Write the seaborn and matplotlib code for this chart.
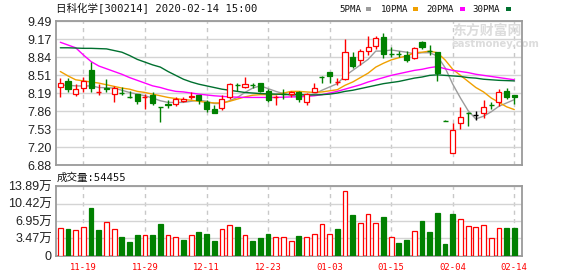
import numpy as np
import matplotlib
matplotlib.use("Agg")
import matplotlib.pyplot as plt
import seaborn as sns

# ---------------- data ----------------
title_text = "日科化学[300214] 2020-02-14 15:00"
vol_label = "成交量:54455"

open_ = [8.30, 8.41, 8.17, 8.28, 8.61, 8.20, 8.28, 8.17, 8.20, 8.12,
         8.18, 8.10, 8.15, 7.94, 8.00, 8.00, 8.04, 8.12, 8.15, 8.03,
         7.90, 7.91, 8.11, 8.34, 8.30, 8.35, 8.37, 8.23, 8.11, 8.18,
         8.18, 8.20, 8.03, 8.20, 8.49, 8.57, 8.38, 8.44, 8.84, 8.78,
         8.96, 9.05, 9.20, 8.91, 8.90, 8.88, 8.82, 9.12, 8.96, 8.93,
         7.70, 7.11, 7.64, 7.84, 7.79, 7.82, 7.98, 8.03, 8.23, 8.15]
close = [8.38, 8.26, 8.26, 8.41, 8.29, 8.21, 8.26, 8.28, 8.19, 8.11,
         8.05, 8.11, 8.01, 7.93, 7.98, 8.08, 8.08, 8.14, 8.06, 7.90,
         7.83, 8.08, 8.35, 8.33, 8.35, 8.34, 8.23, 8.06, 8.12, 8.17,
         8.21, 8.08, 8.17, 8.29, 8.48, 8.49, 8.39, 8.93, 8.68, 8.95,
         9.02, 9.18, 8.89, 8.90, 8.89, 8.79, 9.00, 9.02, 8.95, 8.56,
         7.69, 7.52, 7.75, 7.83, 7.79, 7.94, 7.97, 8.21, 8.12, 8.11]
high = [8.47, 8.46, 8.35, 8.48, 8.75, 8.35, 8.44, 8.31, 8.30, 8.23,
        8.18, 8.17, 8.20, 7.94, 8.06, 8.12, 8.12, 8.20, 8.15, 8.06,
        7.97, 8.15, 8.37, 8.38, 8.48, 8.38, 8.37, 8.26, 8.15, 8.26,
        8.23, 8.23, 8.19, 8.38, 8.49, 8.57, 8.46, 9.17, 8.93, 8.98,
        9.23, 9.22, 9.27, 9.02, 8.95, 8.96, 9.02, 9.13, 9.06, 8.93,
        7.70, 7.64, 7.93, 7.84, 7.86, 8.06, 8.03, 8.26, 8.29, 8.15]
low = [8.12, 8.20, 8.14, 8.20, 8.20, 8.15, 8.21, 8.03, 8.15, 8.10,
       8.00, 7.90, 7.97, 7.67, 7.91, 7.96, 8.03, 8.08, 7.99, 7.85,
       7.83, 7.89, 8.09, 8.23, 8.28, 8.28, 8.21, 8.02, 7.97, 8.09,
       8.12, 8.03, 7.98, 8.20, 8.38, 8.37, 8.34, 8.43, 8.64, 8.70,
       8.88, 8.98, 8.82, 8.85, 8.85, 8.75, 8.80, 8.98, 8.88, 8.41,
       7.69, 7.11, 7.54, 7.60, 7.71, 7.73, 7.90, 7.96, 8.09, 7.99]

ma5 = [8.335, 8.33, 8.32, 8.317, 8.32, 8.29, 8.285, 8.28, 8.24, 8.20,
       8.17, 8.14, 8.10, 8.05, 8.02, 8.02, 8.02, 8.04, 8.06, 8.04,
       8.00, 8.00, 8.05, 8.11, 8.20, 8.28, 8.32, 8.27, 8.22, 8.18,
       8.15, 8.12, 8.14, 8.17, 8.24, 8.30, 8.36, 8.50, 8.60, 8.70,
       8.80, 8.95, 8.95, 8.97, 8.95, 8.93, 8.90, 8.92, 8.92, 8.86,
       8.65, 8.35, 8.10, 7.87, 7.72, 7.77, 7.85, 7.95, 8.01, 8.07]
ma10 = [8.58, 8.50, 8.43, 8.41, 8.39, 8.37, 8.34, 8.31, 8.28, 8.26,
        8.22, 8.20, 8.17, 8.14, 8.11, 8.09, 8.07, 8.06, 8.04, 8.02,
        8.01, 8.01, 8.04, 8.08, 8.12, 8.15, 8.16, 8.16, 8.16, 8.19,
        8.22, 8.22, 8.21, 8.20, 8.21, 8.23, 8.25, 8.33, 8.39, 8.47,
        8.55, 8.66, 8.73, 8.79, 8.83, 8.86, 8.92, 8.93, 8.95, 8.92,
        8.79, 8.62, 8.51, 8.40, 8.29, 8.21, 8.10, 8.02, 7.94, 7.89]
ma20 = [9.11, 9.06, 9.01, 8.88, 8.76, 8.68, 8.63, 8.58, 8.53, 8.47,
        8.42, 8.37, 8.32, 8.29, 8.25, 8.22, 8.21, 8.19, 8.17, 8.155,
        8.14, 8.13, 8.12, 8.115, 8.11, 8.11, 8.11, 8.11, 8.11, 8.115,
        8.12, 8.12, 8.13, 8.14, 8.16, 8.19, 8.22, 8.26, 8.30, 8.34,
        8.39, 8.43, 8.47, 8.51, 8.54, 8.57, 8.60, 8.62, 8.65, 8.67,
        8.63, 8.60, 8.58, 8.56, 8.53, 8.51, 8.49, 8.47, 8.45, 8.43]
ma30 = [9.01, 9.01, 9.005, 9.00, 9.00, 8.995, 8.99, 8.96, 8.93, 8.87,
        8.80, 8.75, 8.70, 8.66, 8.58, 8.51, 8.44, 8.39, 8.35, 8.32,
        8.29, 8.26, 8.24, 8.22, 8.20, 8.19, 8.18, 8.175, 8.17, 8.165,
        8.16, 8.16, 8.155, 8.155, 8.16, 8.17, 8.19, 8.22, 8.24, 8.27,
        8.30, 8.33, 8.36, 8.38, 8.40, 8.43, 8.46, 8.48, 8.51, 8.52,
        8.51, 8.50, 8.49, 8.47, 8.46, 8.44, 8.43, 8.42, 8.415, 8.41]

volume_wan = [5.53, 5.33, 5.13, 5.73, 9.60, 5.13, 6.73, 5.33, 3.73, 2.73,
              4.13, 4.13, 4.13, 6.33, 4.13, 3.73, 3.13, 4.13, 4.73, 4.33,
              2.93, 5.33, 6.13, 5.73, 4.13, 2.93, 3.53, 4.33, 3.73, 3.73,
              2.93, 3.93, 3.73, 4.33, 6.33, 4.33, 5.33, 12.93, 8.13, 6.53,
              8.33, 6.53, 7.73, 3.73, 2.53, 3.13, 4.93, 6.93, 4.73, 8.53,
              2.33, 8.33, 7.33, 5.93, 5.73, 6.13, 3.53, 5.53, 5.45, 5.45]
volume_up = [1, 0, 1, 1, 0, 0, 1, 1, 0, 0,
             0, 1, 0, 0, 1, 1, 0, 1, 0, 0,
             0, 1, 1, 0, 1, 0, 0, 0, 1, 1,
             1, 0, 1, 1, 1, 1, 0, 1, 0, 1,
             1, 1, 0, 1, 0, 0, 1, 0, 0, 0,
             0, 0, 1, 1, 1, 1, 1, 1, 0, 0]

price_ticks = ["6.88", "7.20", "7.53", "7.86", "8.19", "8.51", "8.84", "9.17", "9.49"]
price_min, price_max = 6.88, 9.49
vol_ticks = ["0", "3.47万", "6.95万", "10.42万", "13.89万"]
vol_max = 13.89
date_idx = [3, 11, 19, 27, 35, 43, 51, 59]
date_labels = ["11-19", "11-29", "12-11", "12-23", "01-03", "01-15", "02-04", "02-14"]
legend_names = ["5PMA", "10PMA", "20PMA", "30PMA"]

# ---------------- style ----------------
sns.set_theme(style="white")
plt.rcParams["font.family"] = ["Liberation Sans", "Noto Sans CJK SC", "DejaVu Sans"]
RED = "#ff0000"
GREEN = "#008000"
MA_COLORS = ["#9c9c9c", "#f0a000", "#ff00ff", "#00702f"]
SPINE = "#9a9a9a"
GRID = "#d4d4d4"
MONO = ["DejaVu Sans Mono", "Noto Sans CJK SC"]

W, H = 578, 276
fig = plt.figure(figsize=(W / 100, H / 100), dpi=100)
fig.patch.set_facecolor("white")
L, R = 56, 522
ax = fig.add_axes([L / W, (H - 165.3) / H, (R - L) / W, 144 / H])
axv = fig.add_axes([L / W, (H - 255.6) / H, (R - L) / W, 69.3 / H])

x = np.arange(len(close))
o = np.array(open_); c = np.array(close); hi = np.array(high); lo = np.array(low)
cols = np.where(c > o, RED, np.where(c < o, GREEN, "#000000"))

# watermark (behind the candles)
ax.text(452 / W, 1 - 31 / H, "东方财富网", fontsize=10, fontweight="bold",
        family=["Noto Sans CJK SC"], color="#dcdcdc", ha="left", va="center",
        transform=fig.transFigure, zorder=1)
ax.text(452 / W, 1 - 44 / H, "eastmoney.com", fontsize=7.2, fontweight="bold",
        family=["DejaVu Sans"], color="#dcdcdc", ha="left", va="center",
        transform=fig.transFigure, zorder=1)

# wicks
ax.vlines(x, lo, hi, colors=cols, linewidth=1.0, zorder=3)
# bodies
bw = 0.66
hgt = np.abs(c - o)
bot = np.minimum(c, o)
is_body = hgt >= 0.015
face = np.where(c > o, "white", cols)
ax.bar(x[is_body], hgt[is_body], bottom=bot[is_body], width=bw,
       color=face[is_body], edgecolor=cols[is_body], linewidth=0.9, zorder=4)
ax.hlines(c[~is_body], x[~is_body] - bw / 2, x[~is_body] + bw / 2,
          colors=cols[~is_body], linewidth=1.0, zorder=4)

# moving averages
for series, col in zip([ma5, ma10, ma20, ma30], MA_COLORS):
    sns.lineplot(x=x, y=series, ax=ax, color=col, linewidth=1.0, zorder=2, legend=False)

# volume
v = np.array(volume_wan)
vu = np.array(volume_up).astype(bool)
axv.bar(x[vu], v[vu], width=0.62, color="white", edgecolor=RED, linewidth=0.9, zorder=3)
axv.bar(x[~vu], v[~vu], width=0.62, color=GREEN, edgecolor=GREEN, linewidth=0.9, zorder=3)

for a in (ax, axv):
    a.set_xlim(-0.56, len(close))
    a.set_xticks(date_idx)
    a.grid(False)
    a.xaxis.grid(True, color="#c8c8c8", linestyle=(0, (3, 3)), linewidth=1.0, zorder=0)
    a.yaxis.grid(True, color=GRID, linewidth=1.0, zorder=0)
    a.set_axisbelow(True)
    a.tick_params(length=0)
    for s in a.spines.values():
        s.set_color(SPINE)
        s.set_linewidth(1.3)
    a.set_xlabel("")
    a.set_ylabel("")

ax.set_ylim(price_min, price_max)
ax.set_yticks(np.linspace(price_min, price_max, len(price_ticks)))
ax.set_yticklabels(price_ticks, fontsize=9, color="#222222")
ax.set_xticklabels([])
ax.tick_params(axis="y", pad=3)

axv.set_ylim(0, vol_max)
axv.set_yticks(np.linspace(0, vol_max, len(vol_ticks)))
axv.set_yticklabels(vol_ticks, fontsize=9, color="#222222")
axv.tick_params(axis="y", pad=3)
axv.set_xticklabels(date_labels, fontsize=6.4, color=RED, fontfamily=MONO)
axv.tick_params(axis="x", pad=5)

# title & labels
fig.text(L / W, 1 - 9 / H, title_text, fontsize=7.6, family=MONO,
         ha="left", va="center", color="#111111")
fig.text(57 / W, 1 - 178 / H, vol_label, fontsize=7.6, family=MONO,
         ha="left", va="center", color="#111111")

# legend
leg_x = [339, 381, 426, 472]
sq_x = [366, 413, 460, 506]
for name, lx, sx, col in zip(legend_names, leg_x, sq_x, MA_COLORS):
    fig.text(lx / W, 1 - 9 / H, name, fontsize=6.6, family=MONO,
             ha="left", va="center", color="#111111")
    fig.patches.append(matplotlib.patches.Rectangle(
        (sx / W, 1 - 11 / H), 5 / W, 4 / H, transform=fig.transFigure,
        facecolor=col, edgecolor="none"))

fig.savefig("out.png", dpi=100, facecolor="white")
